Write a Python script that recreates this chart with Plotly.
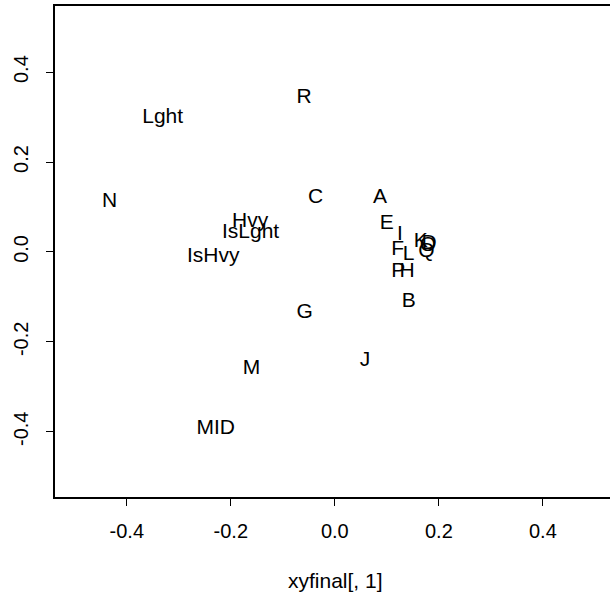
import plotly.graph_objects as go

labels = ["R", "Lght", "N", "C", "A", "E", "Hvy", "IsLght", "IsHvy", "I", "F", "L",
          "K", "D", "O", "Q", "P", "H", "B", "G", "J", "M", "MID"]
xs = [-0.059, -0.331, -0.433, -0.037, 0.087, 0.100, -0.163, -0.162, -0.234, 0.125, 0.121, 0.142,
      0.165, 0.181, 0.179, 0.176, 0.122, 0.139, 0.142, -0.058, 0.058, -0.160, -0.229]
ys = [0.344, 0.298, 0.111, 0.120, 0.120, 0.062, 0.067, 0.042, -0.010, 0.038, 0.004, -0.007,
      0.022, 0.018, 0.014, 0.000, -0.044, -0.044, -0.111, -0.136, -0.242, -0.260, -0.394]
xticks = [-0.4, -0.2, 0.0, 0.2, 0.4]
yticks = [-0.4, -0.2, 0.0, 0.2, 0.4]
xtick_text = ["-0.4", "-0.2", "0.0", "0.2", "0.4"]
ytick_text = ["-0.4", "-0.2", "0.0", "0.2", "0.4"]

font = "Liberation Sans, Arial, Helvetica, sans-serif"

fig = go.Figure()
fig.add_trace(go.Scatter(
    x=xs, y=ys, text=labels, mode="text", textposition="middle center",
    textfont=dict(family=font, size=21, color="black"), hoverinfo="skip"))

fig.update_layout(
    width=610, height=594,
    margin=dict(l=55, r=0, t=6, b=97),
    paper_bgcolor="white", plot_bgcolor="white",
    showlegend=False,
    font=dict(family=font, color="black"),
    xaxis=dict(range=[-0.538, 0.529], tickvals=xticks, ticktext=xtick_text,
               showgrid=False, zeroline=False, showline=True, mirror=True,
               linecolor="black", linewidth=1.5, ticks="outside", ticklen=7,
               tickwidth=1.2, tickcolor="black", tickfont=dict(size=20, family=font),
               ticklabelstandoff=8, fixedrange=True),
    yaxis=dict(range=[-0.545, 0.547], tickvals=yticks, ticktext=ytick_text,
               showgrid=False, zeroline=False, showline=True, mirror=False,
               linecolor="black", linewidth=1.5, ticks="outside", ticklen=7,
               tickwidth=1.2, tickcolor="black", tickangle=-90,
               tickfont=dict(size=20, family=font), ticklabelstandoff=10,
               fixedrange=True),
)
fig.add_annotation(text="xyfinal[, 1]", x=(335 - 55) / 555, xref="paper",
                   y=-(580 - 497) / 491, yref="paper", yanchor="middle",
                   showarrow=False, font=dict(size=21, family=font, color="black"))

fig.write_html("out.html")
